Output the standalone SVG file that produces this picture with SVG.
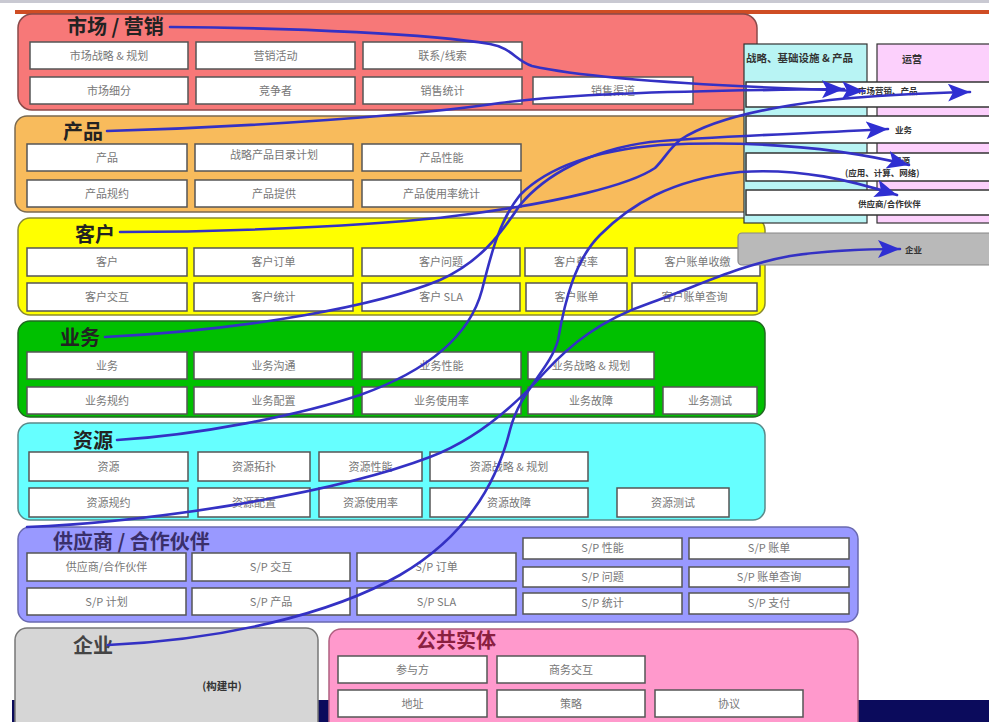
<svg xmlns="http://www.w3.org/2000/svg" width="989" height="722" viewBox="0 0 989 722">
<defs>
<style>
.box{fill:#fff;stroke:#555;stroke-width:1.5}
.bt{font-family:"Noto Sans CJK SC","Liberation Sans",sans-serif;font-size:11px;fill:#777;text-anchor:middle}
.tt{font-family:"Noto Sans CJK SC","Liberation Sans",sans-serif;font-weight:bold;font-size:20px;fill:#222}
.rt{font-family:"Noto Sans CJK SC","Liberation Sans",sans-serif;font-weight:bold;font-size:8.5px;fill:#333}
.conn{fill:none;stroke:#3431c4;stroke-width:2.6;stroke-linecap:round}
</style>
<marker id="ah" markerUnits="userSpaceOnUse" markerWidth="26" markerHeight="20" refX="22" refY="9" orient="auto">
<path d="M0,0 L22,9 L0,18 L5,9 z" fill="#2f2fd2"/>
</marker>
</defs>
<rect x="0" y="0" width="989" height="722" fill="#fff"/>
<rect x="0" y="0" width="989" height="3" fill="#c9c9d2"/>
<rect x="15" y="10" width="974" height="4" fill="#cf4d24"/>
<rect x="12" y="700" width="977" height="22" fill="#0b0b5c"/>

<!-- 市场 / 营销 -->
<g id="market">
<rect x="18" y="14" width="739" height="96" rx="14" fill="#f77878" stroke="#8a4a4a" stroke-width="1.5"/>
<text class="tt" x="67" y="34">市场 / 营销</text>
<g id="m1"><rect class="box" x="30" y="42" width="158" height="27"/><text class="bt" x="109" y="60">市场战略 &amp; 规划</text></g>
<g id="m2"><rect class="box" x="196" y="42" width="159" height="27"/><text class="bt" x="275.5" y="60">营销活动</text></g>
<g id="m3"><rect class="box" x="363" y="42" width="159" height="27"/><text class="bt" x="442.5" y="60">联系/线索</text></g>
<g id="m4"><rect class="box" x="30" y="77" width="158" height="27"/><text class="bt" x="109" y="95">市场细分</text></g>
<g id="m5"><rect class="box" x="196" y="77" width="159" height="27"/><text class="bt" x="275.5" y="95">竞争者</text></g>
<g id="m6"><rect class="box" x="363" y="77" width="159" height="27"/><text class="bt" x="442.5" y="95">销售统计</text></g>
<g id="m7"><rect class="box" x="533" y="77" width="160" height="27"/><text class="bt" x="613" y="95">销售渠道</text></g>
</g>

<!-- 产品 -->
<g id="product">
<rect x="15" y="116" width="742" height="96" rx="12" fill="#f8bb5c" stroke="#7a6a50" stroke-width="1.5"/>
<text class="tt" x="63" y="139">产品</text>
<g id="p1"><rect class="box" x="27" y="144" width="160" height="27"/><text class="bt" x="107" y="162">产品</text></g>
<g id="p2"><rect class="box" x="195" y="144" width="158" height="27"/><text class="bt" x="274" y="159">战略产品目录计划</text></g>
<g id="p3"><rect class="box" x="362" y="144" width="159" height="27"/><text class="bt" x="441.5" y="162">产品性能</text></g>
<g id="p4"><rect class="box" x="27" y="180" width="160" height="27"/><text class="bt" x="107" y="198">产品规约</text></g>
<g id="p5"><rect class="box" x="195" y="180" width="158" height="27"/><text class="bt" x="274" y="198">产品提供</text></g>
<g id="p6"><rect class="box" x="362" y="180" width="159" height="27"/><text class="bt" x="441.5" y="198">产品使用率统计</text></g>
</g>

<!-- 客户 -->
<g id="customer">
<rect x="18" y="218" width="747" height="97" rx="12" fill="#ffff00" stroke="#8a8a30" stroke-width="1.5"/>
<text class="tt" x="75" y="242">客户</text>
<g id="c1"><rect class="box" x="27" y="248" width="160" height="28"/><text class="bt" x="107" y="266">客户</text></g>
<g id="c2"><rect class="box" x="194" y="248" width="159" height="28"/><text class="bt" x="273.5" y="266">客户订单</text></g>
<g id="c3"><rect class="box" x="362" y="248" width="158" height="28"/><text class="bt" x="441" y="266">客户问题</text></g>
<g id="c4"><rect class="box" x="525" y="248" width="102" height="28"/><text class="bt" x="576" y="266">客户费率</text></g>
<g id="c5"><rect class="box" x="635" y="248" width="125" height="28"/><text class="bt" x="697.5" y="266">客户账单收缴</text></g>
<g id="c6"><rect class="box" x="27" y="283" width="160" height="28"/><text class="bt" x="107" y="301">客户交互</text></g>
<g id="c7"><rect class="box" x="194" y="283" width="159" height="28"/><text class="bt" x="273.5" y="301">客户统计</text></g>
<g id="c8"><rect class="box" x="362" y="283" width="158" height="28"/><text class="bt" x="441" y="301">客户 SLA</text></g>
<g id="c9"><rect class="box" x="526" y="283" width="101" height="28"/><text class="bt" x="576.5" y="301">客户账单</text></g>
<g id="c10"><rect class="box" x="632" y="283" width="125" height="28"/><text class="bt" x="694.5" y="301">客户账单查询</text></g>
</g>

<!-- 业务 -->
<g id="service">
<rect x="18" y="321" width="747" height="96" rx="12" fill="#00c000" stroke="#206a20" stroke-width="1.5"/>
<text class="tt" x="60" y="345">业务</text>
<g id="s1"><rect class="box" x="27" y="352" width="160" height="27"/><text class="bt" x="107" y="370">业务</text></g>
<g id="s2"><rect class="box" x="194" y="352" width="159" height="27"/><text class="bt" x="273.5" y="370">业务沟通</text></g>
<g id="s3"><rect class="box" x="362" y="352" width="159" height="27"/><text class="bt" x="441.5" y="370">业务性能</text></g>
<g id="s4"><rect class="box" x="528" y="352" width="126" height="27"/><text class="bt" x="591" y="370">业务战略 &amp; 规划</text></g>
<g id="s5"><rect class="box" x="27" y="387" width="160" height="27"/><text class="bt" x="107" y="405">业务规约</text></g>
<g id="s6"><rect class="box" x="194" y="387" width="159" height="27"/><text class="bt" x="273.5" y="405">业务配置</text></g>
<g id="s7"><rect class="box" x="362" y="387" width="159" height="27"/><text class="bt" x="441.5" y="405">业务使用率</text></g>
<g id="s8"><rect class="box" x="528" y="387" width="126" height="27"/><text class="bt" x="591" y="405">业务故障</text></g>
<g id="s9"><rect class="box" x="663" y="387" width="94" height="27"/><text class="bt" x="710" y="405">业务测试</text></g>
</g>

<!-- 资源 -->
<g id="resource">
<rect x="18" y="423" width="747" height="97" rx="12" fill="#66ffff" stroke="#5a8a8a" stroke-width="1.5"/>
<text class="tt" x="73" y="448">资源</text>
<g id="r1"><rect class="box" x="29" y="452" width="159" height="29"/><text class="bt" x="108.5" y="471">资源</text></g>
<g id="r2"><rect class="box" x="198" y="452" width="112" height="29"/><text class="bt" x="254" y="471">资源拓扑</text></g>
<g id="r3"><rect class="box" x="319" y="452" width="103" height="29"/><text class="bt" x="370.5" y="471">资源性能</text></g>
<g id="r4"><rect class="box" x="430" y="452" width="158" height="29"/><text class="bt" x="509" y="471">资源战略 &amp; 规划</text></g>
<g id="r5"><rect class="box" x="29" y="488" width="159" height="29"/><text class="bt" x="108.5" y="507">资源规约</text></g>
<g id="r6"><rect class="box" x="198" y="488" width="112" height="29"/><text class="bt" x="254" y="507">资源配置</text></g>
<g id="r7"><rect class="box" x="319" y="488" width="103" height="29"/><text class="bt" x="370.5" y="507">资源使用率</text></g>
<g id="r8"><rect class="box" x="430" y="488" width="158" height="29"/><text class="bt" x="509" y="507">资源故障</text></g>
<g id="r9"><rect class="box" x="617" y="488" width="112" height="29"/><text class="bt" x="673" y="507">资源测试</text></g>
</g>

<!-- 供应商 / 合作伙伴 -->
<g id="supplier">
<rect x="18" y="527" width="840" height="95" rx="12" fill="#9999ff" stroke="#6a6ab0" stroke-width="1.5"/>
<text class="tt" x="53" y="549" style="fill:#3a2f6a">供应商 / 合作伙伴</text>
<g id="sp1"><rect class="box" x="27" y="553" width="159" height="28"/><text class="bt" x="106.5" y="571">供应商/合作伙伴</text></g>
<g id="sp2"><rect class="box" x="192" y="553" width="158" height="28"/><text class="bt" x="271" y="571">S/P 交互</text></g>
<g id="sp3"><rect class="box" x="357" y="553" width="159" height="28"/><text class="bt" x="436.5" y="571">S/P 订单</text></g>
<g id="sp4"><rect class="box" x="27" y="588" width="159" height="27"/><text class="bt" x="106.5" y="606">S/P 计划</text></g>
<g id="sp5"><rect class="box" x="192" y="588" width="158" height="27"/><text class="bt" x="271" y="606">S/P 产品</text></g>
<g id="sp6"><rect class="box" x="357" y="588" width="159" height="27"/><text class="bt" x="436.5" y="606">S/P SLA</text></g>
<g id="sp7"><rect class="box" x="523" y="538" width="159" height="21"/><text class="bt" x="602.5" y="552">S/P 性能</text></g>
<g id="sp8"><rect class="box" x="689" y="538" width="160" height="21"/><text class="bt" x="769" y="552">S/P 账单</text></g>
<g id="sp9"><rect class="box" x="523" y="567" width="159" height="20"/><text class="bt" x="602.5" y="581">S/P 问题</text></g>
<g id="sp10"><rect class="box" x="689" y="567" width="160" height="20"/><text class="bt" x="769" y="581">S/P 账单查询</text></g>
<g id="sp11"><rect class="box" x="523" y="593" width="159" height="21"/><text class="bt" x="602.5" y="607">S/P 统计</text></g>
<g id="sp12"><rect class="box" x="689" y="593" width="160" height="21"/><text class="bt" x="769" y="607">S/P 支付</text></g>
</g>

<!-- 企业 -->
<g id="enterprise">
<rect x="15" y="628" width="303" height="110" rx="12" fill="#d6d6d6" stroke="#777" stroke-width="1.5"/>
<text class="tt" x="73" y="653" style="fill:#444">企业</text>
<text x="222" y="690" text-anchor="middle" style="font-family:'Noto Sans CJK SC',sans-serif;font-weight:bold;font-size:10.5px;fill:#333">(构建中)</text>
</g>

<!-- 公共实体 -->
<g id="common">
<rect x="329" y="629" width="529" height="110" rx="12" fill="#ff99cc" stroke="#b06080" stroke-width="1.5"/>
<text class="tt" x="456" y="648" text-anchor="middle" style="fill:#8a2040">公共实体</text>
<g id="ce1"><rect class="box" x="338" y="656" width="149" height="27"/><text class="bt" x="412.5" y="674">参与方</text></g>
<g id="ce2"><rect class="box" x="497" y="656" width="148" height="27"/><text class="bt" x="571" y="674">商务交互</text></g>
<g id="ce3"><rect class="box" x="338" y="690" width="149" height="27"/><text class="bt" x="412.5" y="708">地址</text></g>
<g id="ce4"><rect class="box" x="497" y="690" width="148" height="27"/><text class="bt" x="571" y="708">策略</text></g>
<g id="ce5"><rect class="box" x="655" y="690" width="148" height="27"/><text class="bt" x="729" y="708">协议</text></g>
</g>

<!-- right panel (eTOM) -->
<g id="etom">
<g id="col-sip"><rect x="744" y="44" width="123" height="179" fill="#b8f4f4" stroke="#333" stroke-width="1.2"/><text class="rt" x="746" y="62" style="font-size:10.5px">战略、基础设施 &amp; 产品</text></g>
<g id="col-ops"><rect x="877" y="44" width="120" height="179" fill="#fcd0fc" stroke="#333" stroke-width="1.2"/><text class="rt" x="902" y="63" style="font-size:10px">运营</text></g>
<g id="row-mpc"><rect x="746" y="82" width="250" height="25" fill="#fff" stroke="#333" stroke-width="1.5"/><text class="rt" x="858" y="94">市场营销、产品</text></g>
<g id="row-svc"><rect x="746" y="116" width="250" height="27" fill="#fff" stroke="#333" stroke-width="1.5"/><text class="rt" x="895" y="133">业务</text></g>
<g id="row-res"><rect x="746" y="153" width="250" height="28" fill="#fff" stroke="#333" stroke-width="1.5"/><text class="rt" x="893" y="164">资源</text><text class="rt" x="845" y="176">(应用、计算、网络)</text></g>
<g id="row-sp"><rect x="746" y="190" width="250" height="25" fill="#fff" stroke="#333" stroke-width="1.5"/><text class="rt" x="858" y="207">供应商/合作伙伴</text></g>
<g id="row-ent"><rect x="738" y="233" width="260" height="32" rx="4" fill="#b9b9b9" stroke="#888" stroke-width="1.2"/><text class="rt" x="905" y="253">企业</text></g>
</g>

<!-- connectors -->
<g id="connectors">
<path class="conn" marker-end="url(#ah)" d="M170,27 C300,28 430,34 490,44 C512,48 515,60 532,66 C585,78 700,86 864,91"/>
<path class="conn" marker-end="url(#ah)" d="M107,131 C250,127 420,115 500,103 C560,95 650,91 844,89"/>
<path class="conn" marker-end="url(#ah)" d="M120,232 C250,232 400,224 470,214 C560,202 630,185 655,168 C665,158 668,150 680,140 C710,120 760,108 830,100 C880,95 930,93 970,92"/>
<path class="conn" marker-end="url(#ah)" d="M105,337 C250,330 380,305 440,280 C480,262 500,235 520,205 C545,175 590,150 650,142 C720,136 800,134 888,129"/>
<path class="conn" marker-end="url(#ah)" d="M117,440 C200,435 300,415 360,395 C430,370 470,335 482,290 C492,250 500,220 520,195 C550,165 600,150 660,145 C760,140 840,148 909,165"/>
<path class="conn" marker-end="url(#ah)" d="M27,527 C150,522 330,495 430,457 C480,438 520,400 545,372 C570,345 600,320 650,303 C700,285 740,265 790,256 C830,250 870,249 900,249"/>
<path class="conn" marker-end="url(#ah)" d="M108,645 C220,640 330,615 400,575 C460,540 495,490 510,430 C520,390 550,370 558,340 C565,300 575,260 600,235 C630,205 670,180 740,172 C800,168 850,180 897,195"/>
</g>
</svg>
